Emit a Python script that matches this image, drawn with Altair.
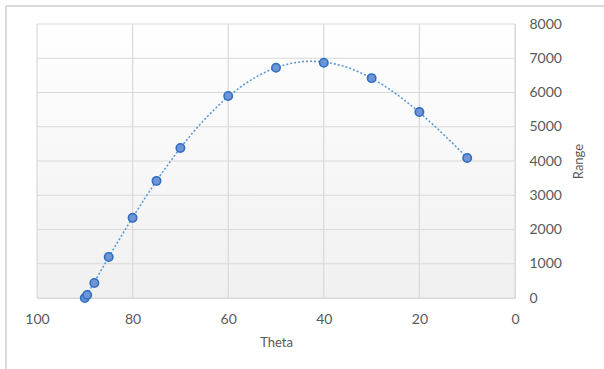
import altair as alt
import pandas as pd

# Launch angle (degrees) and horizontal range
theta = [90, 89.5, 88, 85, 80, 75, 70, 60, 50, 40, 30, 20, 10]
range_vals = [0, 90, 440, 1200, 2340, 3420, 4380, 5900, 6720, 6870, 6420, 5430, 4090]

# Tick positions for both axes
x_ticks = [0, 20, 40, 60, 80, 100]
y_ticks = [0, 1000, 2000, 3000, 4000, 5000, 6000, 7000, 8000]

df = pd.DataFrame({"Theta": theta, "Range": range_vals})
xgrid = pd.DataFrame({"Theta": x_ticks})
ygrid = pd.DataFrame({"Range": y_ticks})

FONT = "Lato"
GRID = "#d9d9d9"
TEXT = "#595959"

x_scale = alt.Scale(domain=[0, 100], reverse=True, nice=False)
y_scale = alt.Scale(domain=[0, 8000], nice=False)

x_axis = alt.Axis(
    values=x_ticks, title="Theta", grid=False,
    domainColor=GRID, domainWidth=1, labelFlush=False,
    ticks=False, labelPadding=14, labelFont=FONT, labelFontSize=14,
    labelColor=TEXT, titleFont=FONT, titleFontSize=13,
    titleFontWeight="normal", titleColor=TEXT, titlePadding=10,
)
y_axis = alt.Axis(
    orient="right", values=y_ticks, format="d", title="Range",
    grid=False, domain=False, ticks=False, labelFlush=False,
    labelPadding=14, labelFont=FONT, labelFontSize=14, labelColor=TEXT,
    titleFont=FONT, titleFontSize=13, titleFontWeight="normal",
    titleColor=TEXT, titlePadding=24, titleAngle=270,
)

x_enc = alt.X("Theta:Q", scale=x_scale, axis=x_axis)
y_enc = alt.Y("Range:Q", scale=y_scale, axis=y_axis)

# Plot-area background: white fading to light gray
background = alt.Chart(df).mark_rect(
    color=alt.Gradient(
        gradient="linear",
        stops=[alt.GradientStop(color="#ffffff", offset=0),
               alt.GradientStop(color="#f0f0f0", offset=1)],
        x1=0, x2=0, y1=0, y2=1,
    ),
).encode(x=alt.value(0), x2=alt.value("width"), y=alt.value(0), y2=alt.value("height"))

# Outer chart frame
frame = alt.Chart(df).mark_rect(
    fill=None, stroke=GRID, strokeWidth=1, clip=False
).encode(x=alt.value(-31), x2=alt.value(620), y=alt.value(-18), y2=alt.value(400))

# Gridlines drawn above the background
vgrid = alt.Chart(xgrid).mark_rule(color=GRID, strokeWidth=1.2).encode(x=x_enc)
hgrid = alt.Chart(ygrid).mark_rule(color=GRID, strokeWidth=1.2).encode(y=y_enc)

trend = alt.Chart(df).transform_regression(
    "Theta", "Range", method="poly", order=4, extent=[10, 90]
).mark_line(
    color="#5b9bd5", strokeWidth=1.6, strokeDash=[2, 2]
).encode(x=x_enc, y=y_enc)

points = alt.Chart(df).mark_circle(
    size=70, color="#6f95d6", opacity=1, stroke="#2f6fc0", strokeWidth=1.6
).encode(x=x_enc, y=y_enc)

chart = alt.layer(background, frame, vgrid, hgrid, trend, points).properties(
    width=478, height=274,
    autosize=alt.AutoSizeParams(type="none"),
    padding={"left": 37, "top": 24, "right": 89, "bottom": 71},
).configure_view(stroke=None).configure(background="white")

chart.save("out.html", embed_options={"renderer": "svg", "actions": False})
